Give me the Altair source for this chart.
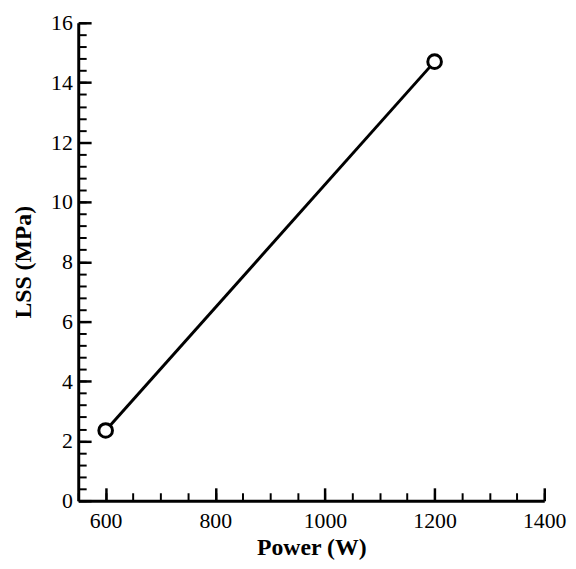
import altair as alt
import pandas as pd

power = [600, 1200]
lss = [2.35, 14.7]

x_label_values = [600, 800, 1000, 1200, 1400]
y_label_values = [0, 2, 4, 6, 8, 10, 12, 14, 16]
x_minor_values = [550 + 50 * i for i in range(18)]
y_minor_values = [round(0.4 * i, 1) for i in range(41)]

W, H = 471, 483
FONT = "Liberation Serif"

df = pd.DataFrame({"power": power, "lss": lss})

xs = alt.Scale(domain=[550, 1400], nice=False, zero=False)
ys = alt.Scale(domain=[0, 16], nice=False, zero=True)

base = alt.Chart(df)

line = base.mark_line(color="black", strokeWidth=3).encode(
    x=alt.X("power:Q", scale=xs, axis=alt.Axis(
        orient="bottom", values=x_label_values, title="Power (W)", ticks=False,
        tickSize=0, grid=False, domain=True, domainColor="black", domainWidth=3,
        format="d",
        labelFont=FONT, labelFontSize=22, labelColor="black", labelPadding=10,
        labelFlush=False, titleFont=FONT, titleFontSize=24, titleFontWeight="bold",
        titleColor="black", titlePadding=4)),
    y=alt.Y("lss:Q", scale=ys, axis=alt.Axis(
        orient="left", values=y_label_values, title="LSS (MPa)", ticks=False,
        tickSize=0, grid=False, domain=True, domainColor="black", domainWidth=3,
        format="d",
        labelFont=FONT, labelFontSize=22, labelColor="black", labelPadding=6,
        labelFlush=False, titleFont=FONT, titleFontSize=24, titleFontWeight="bold",
        titleColor="black", titlePadding=15)),
)

points = base.mark_point(shape="circle", size=190, filled=True, fill="white",
                         stroke="black", strokeWidth=3, opacity=1).encode(
    x=alt.X("power:Q", scale=xs, axis=alt.Axis(
        orient="top", offset=-H, values=x_label_values, labels=False, domain=False,
        grid=False, title=None, ticks=True, tickSize=13, tickWidth=2.5, tickColor="black")),
    y=alt.Y("lss:Q", scale=ys, axis=alt.Axis(
        orient="right", offset=-W, values=y_label_values, labels=False, domain=False,
        grid=False, title=None, ticks=True, tickSize=13, tickWidth=2.5, tickColor="black")),
)

minor = base.mark_point(opacity=0).encode(
    x=alt.X("power:Q", scale=xs, axis=alt.Axis(
        orient="top", offset=-H, values=x_minor_values, labels=False, domain=False,
        grid=False, title=None, ticks=True, tickSize=8, tickWidth=2, tickColor="black")),
    y=alt.Y("lss:Q", scale=ys, axis=alt.Axis(
        orient="right", offset=-W, values=y_minor_values, labels=False, domain=False,
        grid=False, title=None, ticks=True, tickSize=8, tickWidth=2, tickColor="black")),
)

chart = alt.layer(minor, line, points).resolve_axis(x="independent", y="independent").properties(
    width=W, height=H,
    autosize=alt.AutoSizeParams(type="none"),
    padding={"left": 71, "top": 12, "right": 24, "bottom": 58},
    background="white",
).configure_view(stroke=None)

chart.save("out.html", embed_options={"renderer": "svg", "actions": False})
